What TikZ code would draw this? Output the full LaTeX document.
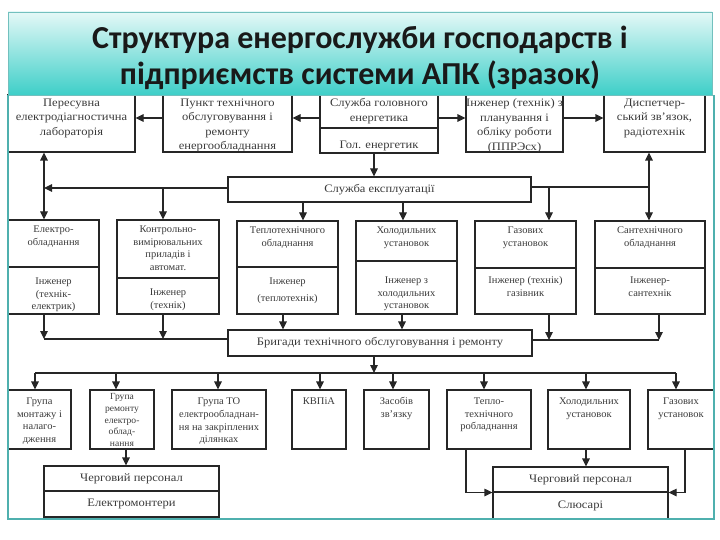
\documentclass[tikz,border=0pt]{standalone}
\usepackage{fontspec}
\setmainfont{Liberation Serif}
\newfontfamily\titlefont{Carlito}
\newfontfamily\dgfont[FakeStretch=1.1]{Liberation Serif}
\newfontfamily\dgmid[FakeStretch=1.03]{Liberation Serif}
\usetikzlibrary{arrows.meta,fit,calc}

\definecolor{frameteal}{HTML}{4FB0AE}
\definecolor{ink}{HTML}{262626}
\definecolor{txtc}{HTML}{3A3A3A}
\definecolor{titletop}{HTML}{E4F8F7}
\definecolor{titlebot}{HTML}{3ECFC8}

\tikzset{
  bx/.style={draw=ink, line width=1.05pt, inner sep=0pt},
  txt/.style={text=txtc, font=\dgmid\fontsize{10.2}{12.8}\selectfont, align=center, inner sep=1pt},
  bigtxt/.style={text=txtc, font=\dgfont\fontsize{11.4}{14.5}\selectfont, align=center, inner sep=1pt},
  smalltxt/.style={txt, font=\dgmid\fontsize{9.3}{11.7}\selectfont},
  ln/.style={draw=ink, line width=1.05pt},
  arr/.style={ln, -{Triangle[length=8pt,width=7.5pt]}},
  arrb/.style={ln, {Triangle[length=8pt,width=7.5pt]}-{Triangle[length=8pt,width=7.5pt]}},
}

% top-aligned text box: [offset]{name}{x1}{y1}{x2}{y2}{text}
\newcommand\mybox[7][6]{%
  \coordinate (#2-a) at (#3,#4); \coordinate (#2-b) at (#5,#6);
  \node[bx, fit=(#2-a)(#2-b)] (#2) {};
  \node[txt, anchor=north] (#2-t) at ([yshift=-#1pt]#2.north) {#7};
}
% centred text box
\newcommand\cbox[6]{%
  \coordinate (#1-a) at (#2,#3); \coordinate (#1-b) at (#4,#5);
  \node[bx, fit=(#1-a)(#1-b)] (#1) {};
  \node[bigtxt] (#1-t) at (#1.center) {#6};
}

\begin{document}
\begin{tikzpicture}[x=1pt,y=-1pt]
\useasboundingbox (0,0) rectangle (720,540);

% ---------- top row ----------
\begin{scope}
\tikzset{txt/.style={bigtxt}}
\mybox[3]{lab}{8}{95}{135}{152}{Пересувна\\електродіагностична\\лабораторія}
\mybox[3]{ptr}{163}{95}{292}{152}{Пункт технічного\\обслуговування і\\ремонту\\енергообладнання}
\mybox[3]{sgeA}{320}{95}{438}{128}{Служба головного\\енергетика}
\mybox[12]{sgeB}{320}{128}{438}{153}{Гол. енергетик}
\mybox[3]{ing}{466}{95}{563}{152}{Інженер (технік) з\\планування і\\обліку роботи\\(ППРЭсх)}
\mybox[3]{disp}{604}{95}{705}{152}{Диспетчер-\\ський зв’язок,\\радіотехнік}
\end{scope}

\cbox{se}{228}{177}{531}{202}{Служба експлуатації}

% ---------- middle row ----------
\mybox[5]{elA}{8}{220}{99}{267}{Електро-\\обладнання}
\mybox[10]{elB}{8}{267}{99}{314}{Інженер\\(технік-\\електрик)}
\mybox[5]{kvA}{117}{220}{219}{278}{Контрольно-\\вимірювальних\\приладів і\\автомат.}
\mybox[10]{kvB}{117}{278}{219}{314}{Інженер\\(технік)}
\mybox[5]{tpA}{237}{221}{338}{267}{Теплотехнічного\\обладнання}
\mybox[10]{tpB}{237}{267}{338}{314}{Інженер\\[4pt](теплотехнік)}
\mybox[5]{hoA}{356}{221}{457}{261}{Холодильних\\установок}
\mybox[15]{hoB}{356}{261}{457}{314}{Інженер з\\холодильних\\установок}
\mybox[5]{gzA}{475}{221}{576}{268}{Газових\\установок}
\mybox[8]{gzB}{475}{268}{576}{314}{Інженер (технік)\\газівник}
\mybox[5]{snA}{595}{221}{705}{268}{Сантехнічного\\обладнання}
\mybox[8]{snB}{595}{268}{705}{314}{Інженер-\\сантехнік}

\cbox{br}{228}{330}{532}{356}{Бригади технічного обслуговування і ремонту}

% ---------- bottom row ----------
\mybox[7]{g1}{8}{390}{71}{449}{Група\\монтажу і\\налаго-\\дження}
\coordinate (g2-a) at (90,390); \coordinate (g2-b) at (154,449);
\node[bx, fit=(g2-a)(g2-b)] (g2) {};
\node[smalltxt, anchor=north] (g2-t) at ([yshift=-3pt]g2.north) {Група\\ремонту\\електро-\\облад-\\нання};
\mybox[7]{g3}{172}{390}{266}{449}{Група ТО\\електрообладнан-\\ня на закріплених\\ділянках}
\mybox[7]{g4}{292}{390}{346}{449}{КВПіА}
\mybox[7]{g5}{364}{390}{429}{449}{Засобів\\зв’язку}
\mybox[7]{g6}{447}{390}{531}{449}{Тепло-\\технічного\\робладнання}
\mybox[7]{g7}{548}{390}{630}{449}{Холодильних\\установок}
\mybox[7]{g8}{648}{390}{714}{449}{Газових\\установок}

\cbox{chA}{44}{466}{219}{491}{Черговий персонал}
\cbox{chB}{44}{491}{219}{517}{Електромонтери}
\cbox{cyA}{493}{467}{668}{492}{Черговий персонал}
\cbox{cyB}{493}{492}{668}{519}{Слюсарі}

% ---------- connectors: top ----------
\draw[arr] (sgeA.west |- 0,118) -- (ptr.east |- 0,118);
\draw[arr] (ptr.west |- 0,118) -- (lab.east |- 0,118);
\draw[arr] (sgeA.east |- 0,118) -- (ing.west |- 0,118);
\draw[arr] (ing.east |- 0,118) -- (disp.west |- 0,118);
\draw[arr] (sgeB.south -| 374,0) -- (se.north -| 374,0);

% service of exploitation
\coordinate (jl) at (44,188);
\coordinate (jr) at (649,187);
\draw[arr] (se.west |- jl) -- (jl);
\draw[arrb] (lab.south -| jl) -- (elA.north -| jl);
\draw[arr] (163,188) -- (kvA.north -| 163,0);
\draw[arr] (se.south -| 303,0) -- (tpA.north -| 303,0);
\draw[arr] (se.south -| 403,0) -- (hoA.north -| 403,0);
\draw[ln] (se.east |- jr) -- (jr);
\draw[arrb] (disp.south -| jr) -- (snA.north -| jr);
\draw[arr] (549,187) -- (gzA.north -| 549,0);

% to brigades
\coordinate (bl) at (44,339);
\coordinate (brr) at (659,340);
\draw[arr] (elB.south -| bl) -- (bl);
\draw[arr] (kvB.south -| 163,0) -- (163,339);
\draw[ln] (bl) -- (br.west |- bl);
\draw[arr] (tpB.south -| 283,0) -- (br.north -| 283,0);
\draw[arr] (hoB.south -| 402,0) -- (br.north -| 402,0);
\draw[ln] (br.east |- brr) -- (brr);
\draw[arr] (gzB.south -| 549,0) -- (549,340);
\draw[arr] (snB.south -| brr) -- (brr);

% brigades to groups
\coordinate (gl) at (35,373);
\coordinate (gr) at (676,373);
\draw[arr] (br.south -| 374,0) -- (374,373);
\draw[ln] (gl) -- (gr);
\draw[arr] (gl) -- (g1.north -| gl);
\draw[arr] (116,373) -- (g2.north -| 116,0);
\draw[arr] (218,373) -- (g3.north -| 218,0);
\draw[arr] (320,373) -- (g4.north -| 320,0);
\draw[arr] (393,373) -- (g5.north -| 393,0);
\draw[arr] (484,373) -- (g6.north -| 484,0);
\draw[arr] (586,373) -- (g7.north -| 586,0);
\draw[arr] (gr) -- (g8.north -| gr);

% groups to duty staff
\draw[arr] (g2.south -| 126,0) -- (chA.north -| 126,0);
\draw[arr] (g7.south -| 586,0) -- (cyA.north -| 586,0);
\draw[arr] (g6.south -| 466,0) |- (cyA.south west);
\draw[arr] (g8.south -| 685,0) |- (cyA.south east);

% ---------- title and frame ----------
\coordinate (tt-a) at (8,12); \coordinate (tt-b) at (712,95);
\node[fit=(tt-a)(tt-b), inner sep=0pt, draw=frameteal!80, line width=0.8pt,
      top color=titletop, bottom color=titlebot] (titlebox) {};
\node[font=\titlefont\bfseries\fontsize{32}{36}\selectfont, text=black!90, align=center]
  (title) at (360,58) {Структура енергослужби господарств і\\підприємств системи АПК (зразок)};
\draw[frameteal, line width=2pt] (8,95) -- (8,519) -- (714,519) -- (714,95);
\end{tikzpicture}
\end{document}
